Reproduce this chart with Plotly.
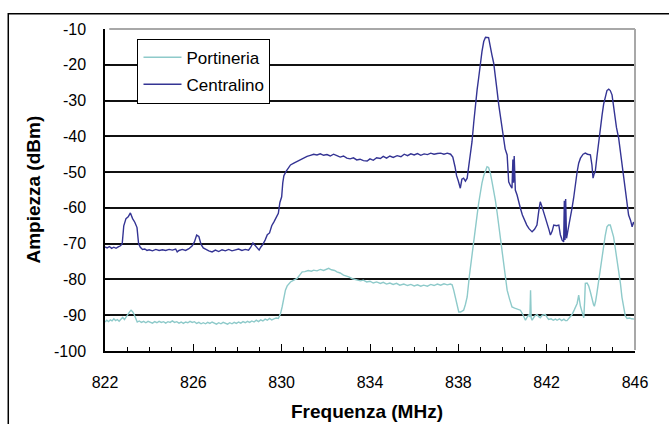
import plotly.graph_objects as go

# ---- data ----
cen_f = [822.00, 822.10, 822.20, 822.30, 822.40, 822.50, 822.60, 822.70, 822.78, 822.85,
         822.95, 823.05, 823.15, 823.25, 823.35, 823.45, 823.52, 823.60, 823.70, 823.80,
         823.90, 824.00, 824.15, 824.30, 824.45, 824.60, 824.75, 824.90, 825.05, 825.20,
         825.27, 825.35, 825.50, 825.65, 825.80, 825.95, 826.05, 826.15, 826.25, 826.35,
         826.45, 826.55, 826.70, 826.85, 827.00, 827.15, 827.30, 827.45, 827.60, 827.75,
         827.90, 828.05, 828.20, 828.35, 828.50, 828.60, 828.70, 828.80, 828.90, 828.98,
         829.05, 829.15, 829.25, 829.35, 829.45, 829.55, 829.65, 829.75, 829.85, 829.92,
         830.00, 830.05, 830.10, 830.20, 830.30, 830.40, 830.55, 830.70, 830.85, 831.00,
         831.15, 831.30, 831.45, 831.60, 831.75, 831.90, 832.05, 832.20, 832.35, 832.50,
         832.65, 832.80, 832.95, 833.10, 833.25, 833.40, 833.55, 833.70, 833.87, 834.00,
         834.15, 834.30, 834.47, 834.60, 834.75, 834.90, 835.05, 835.23, 835.40, 835.55,
         835.70, 835.85, 836.00, 836.15, 836.30, 836.45, 836.60, 836.75, 836.90, 837.05,
         837.20, 837.35, 837.50, 837.65, 837.75, 837.85, 837.92, 838.00, 838.09, 838.16,
         838.24, 838.32, 838.40, 838.50, 838.62, 838.70, 838.77, 838.85, 838.92, 839.00,
         839.07, 839.15, 839.23, 839.37, 839.45, 839.52, 839.60, 839.68, 839.75, 839.83,
         839.92, 840.00, 840.05, 840.12, 840.21, 840.28, 840.36, 840.43, 840.47, 840.50,
         840.53, 840.58, 840.66, 840.73, 840.81, 840.90, 841.00, 841.10, 841.20, 841.34,
         841.45, 841.56, 841.64, 841.71, 841.78, 841.86, 841.94, 842.02, 842.10, 842.17,
         842.25, 842.32, 842.45, 842.55, 842.62, 842.70, 842.77, 842.80, 842.83, 842.86,
         842.90, 843.00, 843.07, 843.15, 843.22, 843.30, 843.38, 843.45, 843.53, 843.65,
         843.75, 843.85, 843.98, 844.05, 844.10, 844.15, 844.20, 844.28, 844.35, 844.43,
         844.51, 844.58, 844.66, 844.73, 844.81, 844.88, 844.96, 845.07, 845.16, 845.26,
         845.33, 845.41, 845.48, 845.56, 845.64, 845.71, 845.80, 845.87, 845.93, 846.00]
cen_v = [-70.9, -71.2, -70.8, -71.3, -71.0, -71.3, -70.9, -70.6, -70.0, -65.0,
         -63.0, -62.5, -61.4, -63.0, -64.0, -65.5, -70.0, -71.0, -71.6, -71.5,
         -71.9, -71.7, -72.0, -71.6, -71.9, -71.7, -71.9, -71.6, -71.8, -71.5,
         -72.3, -71.9, -71.6, -71.9, -71.4, -70.6, -69.5, -67.6, -68.0, -70.2,
         -71.2, -71.6, -72.0, -72.3, -71.8, -72.2, -71.7, -72.0, -71.6, -72.0,
         -71.8, -71.5, -71.9, -71.6, -71.8, -71.0, -69.8, -70.5, -71.2, -71.8,
         -71.0, -70.2, -69.0, -67.5, -67.0, -65.0, -63.9, -62.8, -61.5, -58.5,
         -56.9, -53.0, -51.0, -49.8, -49.0, -48.0, -47.5, -47.0, -46.4, -46.1,
         -45.6, -45.3, -45.0, -45.2, -44.9, -45.3, -45.1, -45.5, -45.0, -45.4,
         -45.8, -45.5, -46.1, -46.3, -46.0, -46.6, -46.4, -46.8, -46.9, -46.3,
         -46.7, -46.0, -46.2, -45.6, -46.1, -45.5, -45.9, -45.4, -45.7, -45.0,
         -45.4, -44.9, -45.2, -44.8, -45.3, -44.9, -45.1, -44.7, -45.0, -44.8,
         -44.7, -45.0, -44.7, -45.0, -45.8, -48.5, -51.0, -52.5, -54.5, -52.0,
         -51.7, -52.5, -51.7, -47.0, -41.5, -36.0, -31.2, -27.0, -23.7, -19.5,
         -16.3, -13.5, -12.3, -12.4, -14.5, -17.2, -19.5, -22.8, -27.0, -31.2,
         -35.5, -39.0, -40.5, -43.5, -45.2, -52.7, -53.8, -54.5, -46.5, -53.0,
         -45.5, -55.0, -56.4, -58.5, -60.1, -62.0, -63.5, -64.8, -65.8, -66.7,
         -66.0, -64.8, -61.0, -58.3, -59.5, -61.1, -62.5, -63.9, -66.0, -67.6,
         -66.5, -64.8, -65.0, -64.8, -67.5, -69.0, -69.5, -58.0, -69.0, -57.5,
         -68.5, -65.0, -62.9, -60.0, -57.3, -53.0, -49.9, -47.5, -46.1, -45.0,
         -44.7, -45.0, -45.2, -48.0, -51.7, -50.5, -49.9, -45.5, -41.5, -37.5,
         -34.0, -31.0, -28.4, -27.2, -26.8, -27.2, -28.4, -34.0, -37.5, -40.5,
         -44.0, -48.0, -52.0, -55.5, -59.0, -62.0, -63.5, -65.3, -64.0, -64.8]

por_f = [822.00, 822.08, 822.16, 822.24, 822.32, 822.40, 822.48, 822.56, 822.64, 822.72,
         822.80, 822.88, 822.95, 823.05, 823.12, 823.18, 823.25, 823.32, 823.40, 823.46,
         823.55, 823.65, 823.75, 823.85, 823.95, 824.05, 824.15, 824.25, 824.35, 824.45,
         824.55, 824.65, 824.75, 824.85, 824.95, 825.05, 825.15, 825.25, 825.35, 825.45,
         825.55, 825.65, 825.75, 825.85, 825.95, 826.05, 826.15, 826.25, 826.35, 826.45,
         826.55, 826.65, 826.75, 826.85, 826.95, 827.05, 827.15, 827.25, 827.35, 827.45,
         827.55, 827.65, 827.75, 827.85, 827.95, 828.05, 828.15, 828.25, 828.35, 828.45,
         828.55, 828.65, 828.75, 828.85, 828.95, 829.05, 829.15, 829.25, 829.35, 829.45,
         829.55, 829.65, 829.75, 829.85, 829.95, 830.02, 830.10, 830.17, 830.25, 830.40,
         830.55, 830.70, 830.85, 830.93, 831.05, 831.20, 831.35, 831.45, 831.60, 831.75,
         831.90, 832.05, 832.13, 832.25, 832.40, 832.50, 832.65, 832.80, 832.95, 833.04,
         833.20, 833.35, 833.50, 833.57, 833.70, 833.85, 834.00, 834.15, 834.30, 834.47,
         834.60, 834.75, 834.90, 835.05, 835.20, 835.35, 835.53, 835.70, 835.85, 836.00,
         836.15, 836.30, 836.43, 836.60, 836.75, 836.90, 837.05, 837.20, 837.35, 837.50,
         837.64, 837.72, 837.79, 837.87, 837.95, 838.02, 838.10, 838.17, 838.24, 838.32,
         838.40, 838.50, 838.62, 838.70, 838.77, 838.85, 838.92, 839.00, 839.07, 839.15,
         839.23, 839.30, 839.37, 839.45, 839.52, 839.60, 839.68, 839.76, 839.83, 839.90,
         839.98, 840.05, 840.13, 840.21, 840.32, 840.43, 840.55, 840.68, 840.81, 840.92,
         841.04, 841.12, 841.19, 841.24, 841.27, 841.30, 841.34, 841.45, 841.56, 841.64,
         841.71, 841.80, 841.94, 842.02, 842.09, 842.20, 842.30, 842.40, 842.47, 842.58,
         842.68, 842.78, 842.85, 842.92, 843.00, 843.08, 843.15, 843.25, 843.38, 843.45,
         843.50, 843.53, 843.60, 843.68, 843.72, 843.75, 843.83, 843.90, 843.98, 844.06,
         844.12, 844.16, 844.22, 844.28, 844.35, 844.43, 844.50, 844.58, 844.65, 844.73,
         844.80, 844.88, 844.96, 845.03, 845.10, 845.19, 845.26, 845.34, 845.41, 845.49,
         845.56, 845.64, 845.75, 845.85, 845.94, 846.00]
por_v = [-91.9, -91.4, -91.8, -91.3, -91.6, -91.0, -91.5, -91.2, -91.7, -91.0,
         -90.6, -91.2, -90.5, -89.5, -89.0, -88.6, -89.0, -89.8, -90.8, -91.9,
         -91.6, -92.0, -91.7, -92.1, -91.7, -91.9, -92.2, -91.8, -92.1, -91.7,
         -92.0, -91.8, -92.2, -91.8, -92.0, -91.6, -92.0, -91.8, -92.2, -91.9,
         -92.3, -91.9, -92.1, -91.7, -92.0, -91.8, -92.3, -92.0, -92.4, -92.1,
         -92.4, -92.0, -92.3, -91.9, -92.3, -92.5, -92.1, -92.4, -92.0, -92.3,
         -92.5, -92.1, -92.4, -92.0, -92.3, -91.9, -92.2, -91.8, -92.1, -91.7,
         -92.0, -91.6, -91.9, -91.4, -91.8, -91.3, -91.6, -91.1, -91.4, -90.9,
         -91.3, -91.0, -90.8, -90.9, -89.5, -87.7, -85.0, -83.0, -81.8, -80.7,
         -80.2, -79.7, -78.5, -77.9, -77.8, -77.5, -77.7, -77.4, -77.6, -77.2,
         -77.5, -77.0, -76.9, -77.3, -77.5, -77.9, -78.2, -78.8, -79.0, -79.3,
         -79.8, -80.0, -80.3, -80.4, -80.2, -80.7, -80.5, -81.0, -80.7, -81.1,
         -80.8, -81.3, -81.0, -81.4, -81.1, -81.6, -81.3, -81.7, -81.4, -81.8,
         -81.5, -81.9, -81.6, -81.9, -81.4, -81.7, -81.3, -81.6, -81.2, -81.5,
         -81.3, -81.5, -83.0, -84.9, -87.0, -89.1, -89.1, -88.9, -88.6, -87.0,
         -84.9, -79.0, -73.7, -70.0, -66.2, -62.0, -58.7, -55.5, -53.1, -51.0,
         -49.4, -48.5, -48.7, -50.3, -52.5, -55.0, -58.0, -61.5, -65.0, -69.0,
         -72.5, -76.5, -80.0, -83.0, -85.5, -87.7, -88.0, -88.3, -88.6, -89.8,
         -91.4, -90.5, -89.8, -90.5, -83.0, -90.8, -91.4, -90.3, -89.8, -90.4,
         -90.7, -90.0, -89.8, -90.6, -91.2, -91.0, -91.4, -91.1, -91.4, -91.0,
         -91.5, -91.1, -91.5, -91.5, -91.0, -90.4, -89.8, -88.5, -86.7, -84.4,
         -86.5, -87.5, -89.0, -90.7, -86.0, -81.1, -81.0, -81.8, -83.5, -85.8,
         -87.0, -87.5, -86.0, -83.6, -80.5, -77.4, -74.0, -70.9, -67.8, -65.3,
         -64.8, -64.8, -66.3, -68.1, -71.0, -74.6, -77.8, -81.1, -85.0, -88.6,
         -90.2, -90.9, -90.8, -91.0, -91.0, -91.1]

x_ticks = [822, 826, 830, 834, 838, 842, 846]
y_ticks = [-100, -90, -80, -70, -60, -50, -40, -30, -20, -10]

FONT = "Liberation Sans, Arial, sans-serif"

fig = go.Figure()
fig.add_trace(go.Scatter(x=por_f, y=por_v, mode="lines", name="Portineria",
                         legendgroup="a",
                         line=dict(color="#8ECACA", width=1.4)))
fig.add_trace(go.Scatter(x=cen_f, y=cen_v, mode="lines", name="Centralino",
                         legendgroup="b",
                         line=dict(color="#343494", width=1.4)))

fig.update_layout(
    width=669, height=424,
    margin=dict(l=104.5, r=34.2, t=29.3, b=73.3, pad=0),
    paper_bgcolor="white", plot_bgcolor="white",
    font=dict(family=FONT, color="black", size=16),
    showlegend=True,
    legend=dict(x=0.0613, y=0.970, xanchor="left", yanchor="top",
                bgcolor="white", bordercolor="black", borderwidth=1,
                font=dict(family=FONT, size=17, color="black"),
                traceorder="grouped", tracegroupgap=2,
                itemwidth=38),
    xaxis=dict(range=[822, 846], tickvals=x_ticks, ticktext=[str(v) for v in x_ticks],
               showgrid=False, zeroline=False,
               showline=True, linecolor="black", linewidth=1.5,
               ticks="inside", ticklen=7, tickwidth=1.2, tickcolor="black",
               minor=dict(dtick=1, tick0=822, ticks="inside", ticklen=4,
                          tickwidth=1, tickcolor="black", showgrid=False),
               ticklabelstandoff=16,
               tickfont=dict(family=FONT, size=16, color="black")),
    yaxis=dict(range=[-100, -10], tickvals=y_ticks, ticktext=[str(v) for v in y_ticks],
               showgrid=True, gridcolor="#111111", gridwidth=1.6,
               zeroline=False,
               showline=True, linecolor="black", linewidth=1.5,
               ticks="inside", ticklen=5, tickwidth=1.2, tickcolor="black",
               ticklabelstandoff=14,
               tickfont=dict(family=FONT, size=16, color="black")),
    shapes=[
        # gray top and right plot borders
        dict(type="line", xref="paper", yref="paper", x0=0.008, x1=1, y0=1, y1=1,
             line=dict(color="#A8A8A8", width=2), layer="above"),
        dict(type="line", xref="paper", yref="paper", x0=1, x1=1, y0=0.003, y1=1,
             line=dict(color="#A8A8A8", width=2), layer="above"),
        # outer chart frame
        dict(type="rect", xref="paper", yref="paper", x0=-0.1825, x1=1.2,
             y0=-0.4, y1=1.0476, line=dict(color="black", width=1.5),
             fillcolor="rgba(0,0,0,0)", layer="below"),
    ],
    annotations=[
        dict(text="<b>Frequenza (MHz)</b>", xref="paper", yref="paper",
             x=0.495, y=-0.1876, xanchor="center", yanchor="middle",
             showarrow=False, font=dict(family=FONT, size=19, color="black")),
        dict(text="<b>Ampiezza (dBm)</b>", xref="paper", yref="paper",
             x=-0.1367, y=0.5, xanchor="center", yanchor="middle", textangle=-90,
             showarrow=False, font=dict(family=FONT, size=19, color="black")),
    ],
)

fig.write_html("out.html")
